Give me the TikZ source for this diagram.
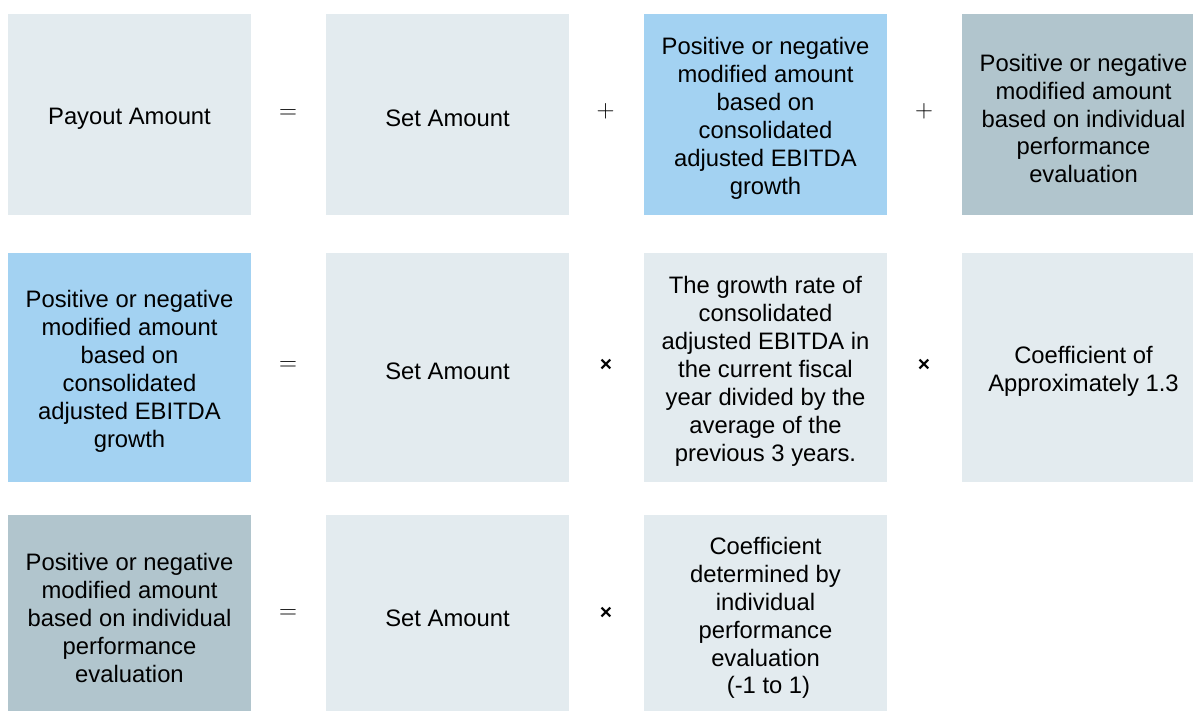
\documentclass[tikz,border=0pt]{standalone}
\usepackage{fontspec}
\setmainfont{Liberation Sans}
\definecolor{boxlight}{RGB}{227,235,239}
\definecolor{boxblue}{RGB}{163,210,242}
\definecolor{boxgray}{RGB}{177,197,205}
\begin{document}
\begin{tikzpicture}[x=1pt,y=-1pt,
  cellbox/.style={rectangle,inner sep=0pt,minimum width=243pt},
  celltext/.style={inner sep=0pt,align=center,yshift=-4pt,
    font=\fontsize{23.8}{27.9}\selectfont,text=black},
  r1/.style={minimum height=201pt},
  r2/.style={minimum height=229pt},
  r3/.style={minimum height=199pt},
  op/.style={inner sep=0pt,font=\fontsize{28}{28}\selectfont},
  mul/.style={inner sep=0pt,font=\fontsize{21}{21}\selectfont\bfseries}]
\useasboundingbox (0,0) rectangle (1193,711);
\clip (0,0) rectangle (1193,711);
% Row 1
\node[cellbox,r1,fill=boxlight] (a1) at (129.5,114.5) {};
\node[cellbox,r1,fill=boxlight] (b1) at (447.5,114.5) {};
\node[cellbox,r1,fill=boxblue] (c1) at (765.5,114.5) {};
\node[cellbox,r1,fill=boxgray] (d1) at (1083.5,114.5) {};
\node[celltext] (a1t) at (a1.center) {Payout Amount};
\node[celltext] (b1t) at (b1.center) {Set Amount};
\node[celltext] (c1t) at (c1.center) {Positive or negative\\modified amount\\based on\\consolidated\\adjusted EBITDA\\growth};
\node[celltext] (d1t) at (d1.center) {Positive or negative\\modified amount\\based on individual\\performance\\evaluation};
\node[op] (e1) at (288,114) {$=$};
\node[op] (p1) at (605.5,111) {$+$};
\node[op] (p2) at (924,111) {$+$};
% Row 2
\node[cellbox,r2,fill=boxblue] (a2) at (129.5,367.5) {};
\node[cellbox,r2,fill=boxlight] (b2) at (447.5,367.5) {};
\node[cellbox,r2,fill=boxlight] (c2) at (765.5,367.5) {};
\node[cellbox,r2,fill=boxlight] (d2) at (1083.5,367.5) {};
\node[celltext] (a2t) at (a2.center) {Positive or negative\\modified amount\\based on\\consolidated\\adjusted EBITDA\\growth};
\node[celltext] (b2t) at (b2.center) {Set Amount};
\node[celltext] (c2t) at (c2.center) {The growth rate of\\consolidated\\adjusted EBITDA in\\the current fiscal\\year divided by the\\average of the\\previous 3 years.};
\node[celltext] (d2t) at (d2.center) {Coefficient of\\Approximately 1.3};
\node[op] (e2) at (288,366) {$=$};
\node[mul] (m1) at (606,365) {×};
\node[mul] (m2) at (924,365) {×};
% Row 3
\node[cellbox,r3,fill=boxgray] (a3) at (129.5,614) {};
\node[cellbox,r3,fill=boxlight] (b3) at (447.5,614) {};
\node[cellbox,r3,fill=boxlight] (c3) at (765.5,614) {};
\node[celltext] (a3t) at (a3.center) {Positive or negative\\modified amount\\based on individual\\performance\\evaluation};
\node[celltext] (b3t) at (b3.center) {Set Amount};
\node[celltext] (c3t) at (c3.center) {Coefficient\\determined by\\individual\\performance\\evaluation\\\hspace*{6pt}(-1 to 1)};
\node[op] (e3) at (288,614) {$=$};
\node[mul] (m3) at (606,613) {×};
\end{tikzpicture}
\end{document}
